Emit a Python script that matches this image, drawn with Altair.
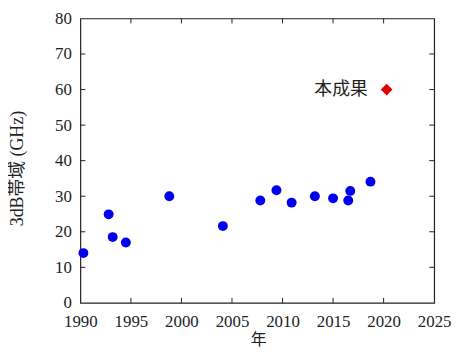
import altair as alt
import pandas as pd

# reference data
years = [1990.3, 1992.8, 1993.2, 1994.5, 1998.8, 2004.1, 2007.8, 2009.4, 2010.9, 2013.2, 2015.0, 2016.5, 2016.7, 2018.7]
bandwidth = [14.0, 24.9, 18.5, 17.0, 30.0, 21.6, 28.8, 31.7, 28.2, 30.0, 29.4, 28.8, 31.5, 34.1]
this_year = [2020.3]
this_bw = [60.0]
this_label = ["本成果"]
x_ticks = [1990, 1995, 2000, 2005, 2010, 2015, 2020, 2025]
y_ticks = [0, 10, 20, 30, 40, 50, 60, 70, 80]
x_inner = [1995, 2000, 2005, 2010, 2015, 2020]
y_inner = [10, 20, 30, 40, 50, 60, 70]

W, H = 357, 287
SERIF = "Liberation Serif, Noto Sans CJK JP"

df = pd.DataFrame({"year": years, "bw": bandwidth})
dr = pd.DataFrame({"year": this_year, "bw": this_bw, "label": this_label})
dxt = pd.DataFrame({"year": x_inner})
dyt = pd.DataFrame({"bw": y_inner})

xs = alt.Scale(domain=[1990, 2025], nice=False, zero=False)
ys = alt.Scale(domain=[0, 80], nice=False)

xaxis = alt.Axis(values=x_ticks, format="d", ticks=False, domain=False, grid=False,
                 labelFont="Liberation Serif", labelFontSize=17, labelColor="#222",
                 labelPadding=11, labelFlush=False, labelOverlap=False,
                 title="年", titleFont=SERIF, titleFontSize=16, titleFontWeight="normal",
                 titleColor="#222", titleX=W / 2 + 1, titleY=37, titleBaseline="middle")
yaxis = alt.Axis(values=y_ticks, ticks=False, domain=False, grid=False,
                 labelFont="Liberation Serif", labelFontSize=17, labelColor="#222",
                 labelPadding=9, labelFlush=False, labelOverlap=False,
                 title="3dB帯域 (GHz)", titleFont=SERIF, titleFontSize=18, titleFontWeight="normal",
                 titleColor="#222", titleAngle=-90, titleX=-63, titleY=151,
                 titleAlign="center", titleBaseline="middle")

X = alt.X("year:Q", scale=xs, axis=xaxis, title="年")
Y = alt.Y("bw:Q", scale=ys, axis=yaxis, title="3dB帯域 (GHz)")

pts = alt.Chart(df).mark_point(shape="circle", filled=True, size=100, color="#0000ee", opacity=1).encode(x=X, y=Y)
red = alt.Chart(dr).mark_point(shape="diamond", filled=True, size=140, color="#e00000", opacity=1).encode(x=X, y=Y)
lbl = alt.Chart(dr).mark_text(align="right", baseline="middle", dx=-19, dy=0,
                              font="Noto Sans CJK JP", fontSize=18, color="#222").encode(
    x=X, y=Y, text="label:N")

tk = dict(color="#222", strokeWidth=1)
bt = alt.Chart(dxt).mark_rule(**tk).encode(x=X, y=alt.value(H), y2=alt.value(H - 5))
tt = alt.Chart(dxt).mark_rule(**tk).encode(x=X, y=alt.value(0), y2=alt.value(5))
lt = alt.Chart(dyt).mark_rule(**tk).encode(y=Y, x=alt.value(0), x2=alt.value(5))
rt = alt.Chart(dyt).mark_rule(**tk).encode(y=Y, x=alt.value(W), x2=alt.value(W - 5))

chart = alt.layer(pts, red, lbl, bt, tt, lt, rt).properties(
    width=W, height=H,
    autosize=alt.AutoSizeParams(type="none"),
    padding={"left": 73, "top": 9, "right": 18, "bottom": 47},
).configure(background="white").configure_view(stroke="#222", strokeWidth=1.2)

chart.save("out.html", embed_options={"renderer": "svg", "actions": False})
